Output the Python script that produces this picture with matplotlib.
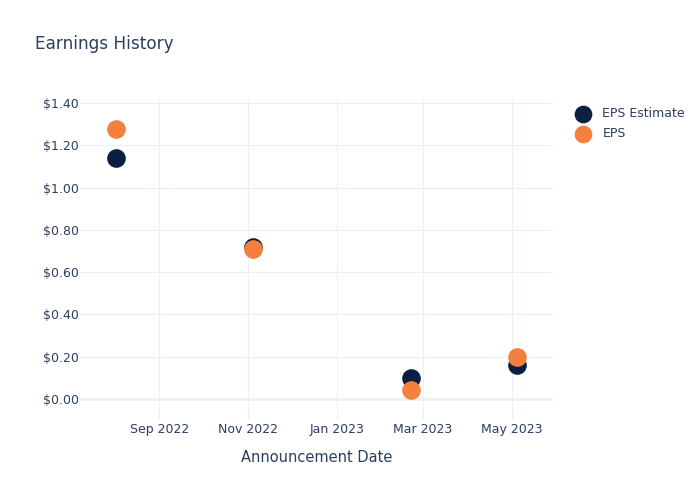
import matplotlib
matplotlib.use("Agg")
import matplotlib.pyplot as plt
import matplotlib.dates as mdates
import numpy as np
import pandas as pd

# data
dates = ["2022-08-02", "2022-11-04", "2023-02-21", "2023-05-05"]
eps_estimate = [1.14, 0.72, 0.10, 0.16]
eps_actual = [1.28, 0.71, 0.04, 0.20]
tick_dates = ["2022-09-01", "2022-11-01", "2023-01-01", "2023-03-01", "2023-05-01"]
tick_labels = ["Sep 2022", "Nov 2022", "Jan 2023", "Mar 2023", "May 2023"]
y_ticks = [0.0, 0.2, 0.4, 0.6, 0.8, 1.0, 1.2, 1.4]

text_col = "#2a3f5f"
grid_col = "#ebf0f8"
navy = "#0b1f42"
orange = "#f5803e"

x = pd.to_datetime(dates)

fig = plt.figure(figsize=(7, 5), dpi=100)
ax = fig.add_axes([80/700, 80/500, 473/700, 320/500])

ax.scatter(x, eps_estimate, s=180, color=navy, label="EPS Estimate", zorder=3, linewidths=0)
ax.scatter(x, eps_actual, s=180, color=orange, label="EPS", zorder=4, linewidths=0)

ax.set_xlim(pd.Timestamp("2022-07-08 12:00"), pd.Timestamp("2023-05-29 10:00"))
ax.set_ylim(-0.1, 1.415)

ax.set_xticks(pd.to_datetime(tick_dates))
ax.set_xticklabels(tick_labels)
ax.set_yticks(y_ticks)
ax.set_yticklabels(["$%.2f" % v for v in y_ticks])

ax.grid(True, color=grid_col, linewidth=0.8, zorder=0)
ax.axhline(0, color=grid_col, linewidth=2, zorder=1)
ax.set_axisbelow(True)
for s in ax.spines.values():
    s.set_visible(False)
ax.tick_params(length=0, labelsize=9, colors=text_col)
ax.tick_params(axis="x", pad=2)
ax.tick_params(axis="y", pad=1)

ax.set_xlabel("Announcement Date", fontsize=10.5, color=text_col, labelpad=10)

fig.text(35/700, 1 - 44/500, "Earnings History", fontsize=12.2, color=text_col, va="center")

leg = fig.legend(loc="upper left", bbox_to_anchor=(570/700, 1 - 102/500), frameon=False,
                 fontsize=9, handletextpad=1.0, labelspacing=0.55, markerscale=0.95,
                 borderaxespad=0, handlelength=1.2)
for t in leg.get_texts():
    t.set_color(text_col)

fig.savefig("out.png", dpi=100)
